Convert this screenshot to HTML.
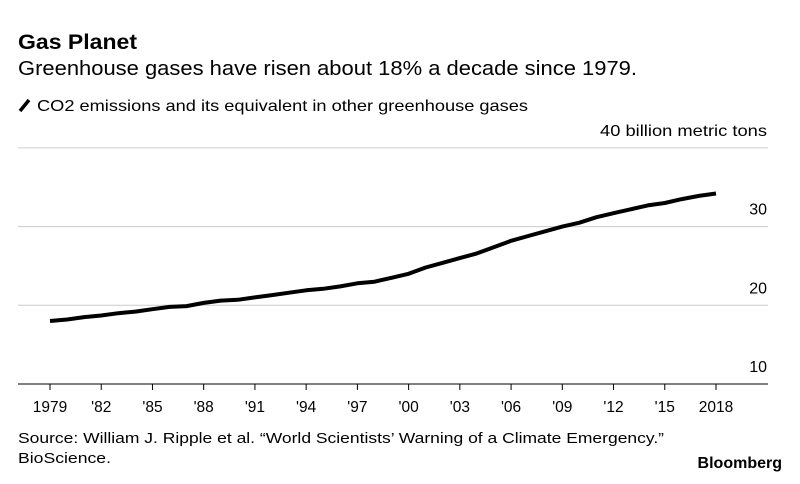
<!DOCTYPE html>
<html><head><meta charset="utf-8"><style>
body{margin:0;background:#fff;width:800px;height:479px;overflow:hidden;font-family:"Liberation Sans",Arial,sans-serif;color:#000}
svg text{font-family:"Liberation Sans",Arial,sans-serif}
</style></head><body>
<svg width="800" height="479">
<text x="18" y="49" font-size="21" font-weight="bold" textLength="119" lengthAdjust="spacingAndGlyphs">Gas Planet</text>
<text x="18" y="75" font-size="20" textLength="619" lengthAdjust="spacingAndGlyphs">Greenhouse gases have risen about 18% a decade since 1979.</text>
<line x1="20" y1="111" x2="29" y2="100" stroke="#000" stroke-width="3.5"/>
<text x="37" y="111" font-size="16" textLength="491" lengthAdjust="spacingAndGlyphs">CO2 emissions and its equivalent in other greenhouse gases</text>
<g id="grid"></g>
<g id="xt"></g>
<path id="line" fill="none" stroke="#000" stroke-width="4" stroke-linejoin="round"/>
<text x="18" y="443" font-size="15" textLength="646" lengthAdjust="spacingAndGlyphs">Source: William J. Ripple et al. “World Scientists’ Warning of a Climate Emergency.”</text>
<text x="18" y="463" font-size="15" textLength="93" lengthAdjust="spacingAndGlyphs">BioScience.</text>
<text x="782" y="468" font-size="16" font-weight="bold" text-anchor="end">Bloomberg</text>
</svg>
<script>
const years=[1979,1980,1981,1982,1983,1984,1985,1986,1987,1988,1989,1990,1991,1992,1993,1994,1995,1996,1997,1998,1999,2000,2001,2002,2003,2004,2005,2006,2007,2008,2009,2010,2011,2012,2013,2014,2015,2016,2017,2018];
const values=[18.0,18.2,18.5,18.7,19.0,19.2,19.5,19.8,19.9,20.3,20.6,20.7,21.0,21.3,21.6,21.9,22.1,22.4,22.8,23.0,23.5,24.0,24.8,25.4,26.0,26.6,27.4,28.2,28.8,29.4,30.0,30.5,31.2,31.7,32.2,32.7,33.0,33.5,33.9,34.2];
const yTicks=[10,20,30,40];
const yTickLabels=["10","20","30","40 billion metric tons"];
const xTicks=[1979,1982,1985,1988,1991,1994,1997,2000,2003,2006,2009,2012,2015,2018];
const xTickLabels=["1979","'82","'85","'88","'91","'94","'97","'00","'03","'06","'09","'12","'15","2018"];
const NS="http://www.w3.org/2000/svg";
const x=v=>50+(v-1979)*(666/39);
const y=v=>384-(v-10)*7.87;
const grid=document.getElementById('grid');
yTicks.forEach((t,i)=>{
 const l=document.createElementNS(NS,'line');
 l.setAttribute('x1',18);l.setAttribute('x2',768);l.setAttribute('y1',y(t));l.setAttribute('y2',y(t));
 l.setAttribute('stroke',i==0?'#000':'#ccc');l.setAttribute('stroke-width',1);
 
 
 grid.appendChild(l);
 const tx=document.createElementNS(NS,'text');
 tx.setAttribute('x',767);tx.setAttribute('y',y(t)-12);tx.setAttribute('text-anchor','end');tx.setAttribute('font-size',16);
 if(i==3){tx.setAttribute('textLength',167);tx.setAttribute('lengthAdjust','spacingAndGlyphs');}
 tx.textContent=yTickLabels[i];
 
 
 grid.appendChild(tx);
});
const xt=document.getElementById('xt');
xTicks.forEach((t,i)=>{
 const l=document.createElementNS(NS,'line');
 l.setAttribute('x1',x(t));l.setAttribute('x2',x(t));l.setAttribute('y1',384);l.setAttribute('y2',390);l.setAttribute('stroke','#000');
 
 
 xt.appendChild(l);
 const tx=document.createElementNS(NS,'text');
 tx.setAttribute('x',x(t));tx.setAttribute('y',412);tx.setAttribute('text-anchor','middle');tx.setAttribute('font-size',15.5);
 tx.textContent=xTickLabels[i];
 
 
 xt.appendChild(tx);
});
document.getElementById('line').setAttribute('d',years.map((yr,i)=>(i?'L':'M')+x(yr).toFixed(1)+','+y(values[i]).toFixed(1)).join(''));
</script>
</body></html>
